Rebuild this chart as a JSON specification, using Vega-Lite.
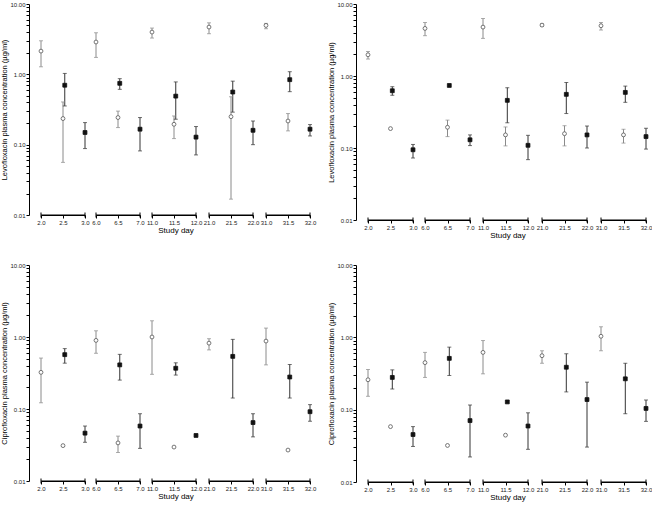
{
  "$schema": "https://vega.github.io/schema/vega-lite/v6.json",
  "padding": {"left": 0, "top": 1, "right": 0, "bottom": 0},
  "background": "white",
  "config": {
    "font": "Liberation Sans",
    "view": {"stroke": null},
    "axis": {"labelFont": "Liberation Sans", "titleFont": "Liberation Sans", "labelFontSize": 6, "titleFontSize": 7.5, "titleFontWeight": "normal", "domainColor": "#000", "tickColor": "#000", "labelColor": "#222", "titleColor": "#000", "grid": false},
    "header": {"labels": false, "titleFont": "Liberation Sans", "titleFontSize": 8, "titleFontWeight": "normal", "titleColor": "#000", "titleOrient": "bottom", "titlePadding": -8}
  },
  "datasets": {
    "d": [
      {"p":1,"g":1,"d":2.0,"t":"open","v":2.14,"lo":1.28,"hi":3.0},
      {"p":1,"g":1,"d":2.54,"t":"filled","v":0.70,"lo":0.355,"hi":1.03},
      {"p":1,"g":1,"d":2.5,"t":"open","v":0.235,"lo":0.056,"hi":0.405},
      {"p":1,"g":1,"d":3.0,"t":"filled","v":0.149,"lo":0.088,"hi":0.206},
      {"p":1,"g":2,"d":6.0,"t":"open","v":2.88,"lo":1.74,"hi":3.9},
      {"p":1,"g":2,"d":6.54,"t":"filled","v":0.745,"lo":0.612,"hi":0.868},
      {"p":1,"g":2,"d":6.5,"t":"open","v":0.243,"lo":0.175,"hi":0.30},
      {"p":1,"g":2,"d":7.0,"t":"filled","v":0.166,"lo":0.0815,"hi":0.243},
      {"p":1,"g":3,"d":11.0,"t":"open","v":3.99,"lo":3.28,"hi":4.55},
      {"p":1,"g":3,"d":11.54,"t":"filled","v":0.49,"lo":0.23,"hi":0.78},
      {"p":1,"g":3,"d":11.5,"t":"open","v":0.195,"lo":0.122,"hi":0.256},
      {"p":1,"g":3,"d":12.0,"t":"filled","v":0.128,"lo":0.0715,"hi":0.181},
      {"p":1,"g":4,"d":21.0,"t":"open","v":4.7,"lo":3.78,"hi":5.4},
      {"p":1,"g":4,"d":21.54,"t":"filled","v":0.56,"lo":0.29,"hi":0.80},
      {"p":1,"g":4,"d":21.5,"t":"open","v":0.25,"lo":0.0168,"hi":0.48},
      {"p":1,"g":4,"d":22.0,"t":"filled","v":0.16,"lo":0.1,"hi":0.217},
      {"p":1,"g":5,"d":31.0,"t":"open","v":4.96,"lo":4.45,"hi":5.3},
      {"p":1,"g":5,"d":31.54,"t":"filled","v":0.84,"lo":0.567,"hi":1.09},
      {"p":1,"g":5,"d":31.5,"t":"open","v":0.217,"lo":0.157,"hi":0.277},
      {"p":1,"g":5,"d":32.0,"t":"filled","v":0.166,"lo":0.133,"hi":0.193},

      {"p":2,"g":1,"d":2.0,"t":"open","v":1.97,"lo":1.72,"hi":2.19},
      {"p":2,"g":1,"d":2.54,"t":"filled","v":0.624,"lo":0.54,"hi":0.71},
      {"p":2,"g":1,"d":2.5,"t":"open","v":0.186,"lo":null,"hi":null},
      {"p":2,"g":1,"d":3.0,"t":"filled","v":0.0945,"lo":0.0726,"hi":0.112},
      {"p":2,"g":2,"d":6.0,"t":"open","v":4.58,"lo":3.63,"hi":5.53},
      {"p":2,"g":2,"d":6.54,"t":"filled","v":0.739,"lo":null,"hi":null},
      {"p":2,"g":2,"d":6.5,"t":"open","v":0.194,"lo":0.144,"hi":0.244},
      {"p":2,"g":2,"d":7.0,"t":"filled","v":0.13,"lo":0.108,"hi":0.152},
      {"p":2,"g":3,"d":11.0,"t":"open","v":4.78,"lo":3.33,"hi":6.29},
      {"p":2,"g":3,"d":11.54,"t":"filled","v":0.459,"lo":0.224,"hi":0.687},
      {"p":2,"g":3,"d":11.5,"t":"open","v":0.152,"lo":0.107,"hi":0.196},
      {"p":2,"g":3,"d":12.0,"t":"filled","v":0.109,"lo":0.0689,"hi":0.15},
      {"p":2,"g":4,"d":21.0,"t":"open","v":5.09,"lo":4.9,"hi":5.3},
      {"p":2,"g":4,"d":21.54,"t":"filled","v":0.556,"lo":0.301,"hi":0.813},
      {"p":2,"g":4,"d":21.5,"t":"open","v":0.158,"lo":0.107,"hi":0.204},
      {"p":2,"g":4,"d":22.0,"t":"filled","v":0.152,"lo":0.1,"hi":0.202},
      {"p":2,"g":5,"d":31.0,"t":"open","v":4.99,"lo":4.35,"hi":5.53},
      {"p":2,"g":5,"d":31.54,"t":"filled","v":0.592,"lo":0.431,"hi":0.724},
      {"p":2,"g":5,"d":31.5,"t":"open","v":0.152,"lo":0.117,"hi":0.182},
      {"p":2,"g":5,"d":32.0,"t":"filled","v":0.144,"lo":0.0966,"hi":0.188},

      {"p":3,"g":1,"d":2.0,"t":"open","v":0.323,"lo":0.122,"hi":0.51},
      {"p":3,"g":1,"d":2.54,"t":"filled","v":0.569,"lo":0.433,"hi":0.69},
      {"p":3,"g":1,"d":2.5,"t":"open","v":0.031,"lo":null,"hi":null},
      {"p":3,"g":1,"d":3.0,"t":"filled","v":0.0462,"lo":0.0345,"hi":0.058},
      {"p":3,"g":2,"d":6.0,"t":"open","v":0.897,"lo":0.594,"hi":1.22},
      {"p":3,"g":2,"d":6.54,"t":"filled","v":0.41,"lo":0.252,"hi":0.574},
      {"p":3,"g":2,"d":6.5,"t":"open","v":0.0338,"lo":0.0249,"hi":0.042},
      {"p":3,"g":2,"d":7.0,"t":"filled","v":0.058,"lo":0.0284,"hi":0.086},
      {"p":3,"g":3,"d":11.0,"t":"open","v":1.0,"lo":0.303,"hi":1.68},
      {"p":3,"g":3,"d":11.54,"t":"filled","v":0.368,"lo":0.296,"hi":0.438},
      {"p":3,"g":3,"d":11.5,"t":"open","v":0.0296,"lo":null,"hi":null},
      {"p":3,"g":3,"d":12.0,"t":"filled","v":0.0429,"lo":null,"hi":null},
      {"p":3,"g":4,"d":21.0,"t":"open","v":0.822,"lo":0.662,"hi":0.947},
      {"p":3,"g":4,"d":21.54,"t":"filled","v":0.538,"lo":0.142,"hi":0.927},
      {"p":3,"g":4,"d":22.0,"t":"filled","v":0.0648,"lo":0.041,"hi":0.086},
      {"p":3,"g":5,"d":31.0,"t":"open","v":0.878,"lo":0.41,"hi":1.33},
      {"p":3,"g":5,"d":31.54,"t":"filled","v":0.278,"lo":0.142,"hi":0.415},
      {"p":3,"g":5,"d":31.5,"t":"open","v":0.0269,"lo":null,"hi":null},
      {"p":3,"g":5,"d":32.0,"t":"filled","v":0.0917,"lo":0.0676,"hi":0.115},

      {"p":4,"g":1,"d":2.0,"t":"open","v":0.259,"lo":0.153,"hi":0.359},
      {"p":4,"g":1,"d":2.54,"t":"filled","v":0.279,"lo":0.193,"hi":0.355},
      {"p":4,"g":1,"d":2.5,"t":"open","v":0.0583,"lo":null,"hi":null},
      {"p":4,"g":1,"d":3.0,"t":"filled","v":0.0453,"lo":0.031,"hi":0.0583},
      {"p":4,"g":2,"d":6.0,"t":"open","v":0.447,"lo":0.279,"hi":0.619},
      {"p":4,"g":2,"d":6.54,"t":"filled","v":0.512,"lo":0.297,"hi":0.732},
      {"p":4,"g":2,"d":6.5,"t":"open","v":0.032,"lo":null,"hi":null},
      {"p":4,"g":2,"d":7.0,"t":"filled","v":0.0706,"lo":0.0222,"hi":0.116},
      {"p":4,"g":3,"d":11.0,"t":"open","v":0.619,"lo":0.313,"hi":0.903},
      {"p":4,"g":3,"d":11.54,"t":"filled","v":0.128,"lo":null,"hi":null},
      {"p":4,"g":3,"d":11.5,"t":"open","v":0.0444,"lo":null,"hi":null},
      {"p":4,"g":3,"d":12.0,"t":"filled","v":0.0594,"lo":0.0283,"hi":0.0905},
      {"p":4,"g":4,"d":21.0,"t":"open","v":0.557,"lo":0.438,"hi":0.652},
      {"p":4,"g":4,"d":21.54,"t":"filled","v":0.386,"lo":0.176,"hi":0.593},
      {"p":4,"g":4,"d":22.0,"t":"filled","v":0.138,"lo":0.0304,"hi":0.24},
      {"p":4,"g":5,"d":31.0,"t":"open","v":1.035,"lo":0.652,"hi":1.40},
      {"p":4,"g":5,"d":31.54,"t":"filled","v":0.267,"lo":0.0879,"hi":0.438},
      {"p":4,"g":5,"d":32.0,"t":"filled","v":0.104,"lo":0.0689,"hi":0.136}
    ]
  },
  "spacing": 22,
  "vconcat": [
    {
      "spacing": 11,
      "hconcat": [
        {
          "data": {"name": "d"},
          "transform": [{"filter": "datum.p == 1"}],
          "facet": {"column": {"field": "g", "type": "ordinal", "title": "Study day"}},
          "spacing": {"column": 1},
          "resolve": {"scale": {"x": "independent"}},
          "spec": {
            "width": 44, "height": 211,
            "encoding": {"x": {"field": "d", "type": "quantitative", "scale": {"zero": false, "nice": false, "padding": 0}, "axis": {"tickCount": 2, "format": ".1f", "title": null, "tickSize": 3, "labelPadding": 1, "labelFlush": false, "labelOverlap": false}}},
            "layer": [
              {"mark": {"type": "rule", "strokeWidth": 1, "color": "#000000"}, "encoding": {"x": {"aggregate": "min", "field": "d", "type": "quantitative", "scale": {"zero": false, "nice": false, "padding": 0}, "axis": {"tickCount": 2, "format": ".1f", "title": null, "tickSize": 3, "labelPadding": 1, "labelFlush": false, "labelOverlap": false}}, "x2": {"aggregate": "max", "field": "d"}, "y": {"datum": 0.01, "type": "quantitative", "scale": {"type": "log", "domain": [0.01, 10], "nice": false}, "axis": {"values": [0.01,0.02,0.03,0.04,0.05,0.06,0.07,0.08,0.09,0.1,0.2,0.3,0.4,0.5,0.6,0.7,0.8,0.9,1,2,3,4,5,6,7,8,9,10], "labelExpr": "(datum.value==0.01||datum.value==0.1||datum.value==1||datum.value==10) ? format(datum.value, '.2f') : ''", "tickSize": 3, "offset": 7, "title": "Levofloxacin plasma concentration (µg/ml)", "labelPadding": 1, "titlePadding": 1, "labelOverlap": false, "labelFlush": false}}}},
              {"mark": {"type": "tick", "orient": "vertical", "size": 5, "thickness": 1, "color": "#000000"}, "encoding": {"x": {"aggregate": "min", "field": "d", "type": "quantitative", "scale": {"zero": false, "nice": false, "padding": 0}, "axis": {"tickCount": 2, "format": ".1f", "title": null, "tickSize": 3, "labelPadding": 1, "labelFlush": false, "labelOverlap": false}}, "y": {"datum": 0.01, "type": "quantitative", "scale": {"type": "log", "domain": [0.01, 10], "nice": false}, "axis": {"values": [0.01,0.02,0.03,0.04,0.05,0.06,0.07,0.08,0.09,0.1,0.2,0.3,0.4,0.5,0.6,0.7,0.8,0.9,1,2,3,4,5,6,7,8,9,10], "labelExpr": "(datum.value==0.01||datum.value==0.1||datum.value==1||datum.value==10) ? format(datum.value, '.2f') : ''", "tickSize": 3, "offset": 7, "title": "Levofloxacin plasma concentration (µg/ml)", "labelPadding": 1, "titlePadding": 1, "labelOverlap": false, "labelFlush": false}}}},
              {"mark": {"type": "tick", "orient": "vertical", "size": 5, "thickness": 1, "color": "#000000"}, "encoding": {"x": {"aggregate": "max", "field": "d", "type": "quantitative", "scale": {"zero": false, "nice": false, "padding": 0}, "axis": {"tickCount": 2, "format": ".1f", "title": null, "tickSize": 3, "labelPadding": 1, "labelFlush": false, "labelOverlap": false}}, "y": {"datum": 0.01, "type": "quantitative", "scale": {"type": "log", "domain": [0.01, 10], "nice": false}, "axis": {"values": [0.01,0.02,0.03,0.04,0.05,0.06,0.07,0.08,0.09,0.1,0.2,0.3,0.4,0.5,0.6,0.7,0.8,0.9,1,2,3,4,5,6,7,8,9,10], "labelExpr": "(datum.value==0.01||datum.value==0.1||datum.value==1||datum.value==10) ? format(datum.value, '.2f') : ''", "tickSize": 3, "offset": 7, "title": "Levofloxacin plasma concentration (µg/ml)", "labelPadding": 1, "titlePadding": 1, "labelOverlap": false, "labelFlush": false}}}},
              {"mark": {"type": "rule", "strokeWidth": 1}, "encoding": {"y": {"field": "lo", "type": "quantitative", "scale": {"type": "log", "domain": [0.01, 10], "nice": false}, "axis": {"values": [0.01,0.02,0.03,0.04,0.05,0.06,0.07,0.08,0.09,0.1,0.2,0.3,0.4,0.5,0.6,0.7,0.8,0.9,1,2,3,4,5,6,7,8,9,10], "labelExpr": "(datum.value==0.01||datum.value==0.1||datum.value==1||datum.value==10) ? format(datum.value, '.2f') : ''", "tickSize": 3, "offset": 7, "title": "Levofloxacin plasma concentration (µg/ml)", "labelPadding": 1, "titlePadding": 1, "labelOverlap": false, "labelFlush": false}}, "y2": {"field": "hi"}, "color": {"field": "t", "type": "nominal", "scale": {"domain": ["open", "filled"], "range": ["#8a8a8a", "#333333"]}, "legend": null}}},
              {"mark": {"type": "tick", "orient": "horizontal", "size": 4, "thickness": 1}, "encoding": {"y": {"field": "lo", "type": "quantitative", "scale": {"type": "log", "domain": [0.01, 10], "nice": false}, "axis": {"values": [0.01,0.02,0.03,0.04,0.05,0.06,0.07,0.08,0.09,0.1,0.2,0.3,0.4,0.5,0.6,0.7,0.8,0.9,1,2,3,4,5,6,7,8,9,10], "labelExpr": "(datum.value==0.01||datum.value==0.1||datum.value==1||datum.value==10) ? format(datum.value, '.2f') : ''", "tickSize": 3, "offset": 7, "title": "Levofloxacin plasma concentration (µg/ml)", "labelPadding": 1, "titlePadding": 1, "labelOverlap": false, "labelFlush": false}}, "color": {"field": "t", "type": "nominal", "legend": null}}},
              {"mark": {"type": "tick", "orient": "horizontal", "size": 4, "thickness": 1}, "encoding": {"y": {"field": "hi", "type": "quantitative", "scale": {"type": "log", "domain": [0.01, 10], "nice": false}, "axis": {"values": [0.01,0.02,0.03,0.04,0.05,0.06,0.07,0.08,0.09,0.1,0.2,0.3,0.4,0.5,0.6,0.7,0.8,0.9,1,2,3,4,5,6,7,8,9,10], "labelExpr": "(datum.value==0.01||datum.value==0.1||datum.value==1||datum.value==10) ? format(datum.value, '.2f') : ''", "tickSize": 3, "offset": 7, "title": "Levofloxacin plasma concentration (µg/ml)", "labelPadding": 1, "titlePadding": 1, "labelOverlap": false, "labelFlush": false}}, "color": {"field": "t", "type": "nominal", "legend": null}}},
              {"mark": {"type": "point", "filled": true, "size": 15, "strokeWidth": 0.8, "opacity": 1}, "encoding": {
                "y": {"field": "v", "type": "quantitative", "scale": {"type": "log", "domain": [0.01, 10], "nice": false}, "axis": {"values": [0.01,0.02,0.03,0.04,0.05,0.06,0.07,0.08,0.09,0.1,0.2,0.3,0.4,0.5,0.6,0.7,0.8,0.9,1,2,3,4,5,6,7,8,9,10], "labelExpr": "(datum.value==0.01||datum.value==0.1||datum.value==1||datum.value==10) ? format(datum.value, '.2f') : ''", "tickSize": 3, "offset": 7, "title": "Levofloxacin plasma concentration (µg/ml)", "labelPadding": 1, "titlePadding": 1, "labelOverlap": false, "labelFlush": false}},
                "shape": {"field": "t", "type": "nominal", "scale": {"domain": ["open", "filled"], "range": ["circle", "square"]}, "legend": null},
                "fill": {"field": "t", "type": "nominal", "scale": {"domain": ["open", "filled"], "range": ["#ffffff", "#111111"]}, "legend": null},
                "stroke": {"field": "t", "type": "nominal", "scale": {"domain": ["open", "filled"], "range": ["#555555", "#111111"]}, "legend": null}}}
            ]
          }
        },
        {
          "data": {"name": "d"},
          "transform": [{"filter": "datum.p == 2"}],
          "facet": {"column": {"field": "g", "type": "ordinal", "title": "Study day"}},
          "spacing": {"column": 2},
          "resolve": {"scale": {"x": "independent"}},
          "spec": {
            "width": 45, "height": 216,
            "encoding": {"x": {"field": "d", "type": "quantitative", "scale": {"zero": false, "nice": false, "padding": 0}, "axis": {"tickCount": 2, "format": ".1f", "title": null, "tickSize": 3, "labelPadding": 1, "labelFlush": false, "labelOverlap": false}}},
            "layer": [
              {"mark": {"type": "rule", "strokeWidth": 1, "color": "#000000"}, "encoding": {"x": {"aggregate": "min", "field": "d", "type": "quantitative", "scale": {"zero": false, "nice": false, "padding": 0}, "axis": {"tickCount": 2, "format": ".1f", "title": null, "tickSize": 3, "labelPadding": 1, "labelFlush": false, "labelOverlap": false}}, "x2": {"aggregate": "max", "field": "d"}, "y": {"datum": 0.01, "type": "quantitative", "scale": {"type": "log", "domain": [0.01, 10], "nice": false}, "axis": {"values": [0.01,0.02,0.03,0.04,0.05,0.06,0.07,0.08,0.09,0.1,0.2,0.3,0.4,0.5,0.6,0.7,0.8,0.9,1,2,3,4,5,6,7,8,9,10], "labelExpr": "(datum.value==0.01||datum.value==0.1||datum.value==1||datum.value==10) ? format(datum.value, '.2f') : ''", "tickSize": 3, "offset": 7, "title": "Levofloxacin plasma concentration (µg/ml)", "labelPadding": 1, "titlePadding": 1, "labelOverlap": false, "labelFlush": false}}}},
              {"mark": {"type": "tick", "orient": "vertical", "size": 5, "thickness": 1, "color": "#000000"}, "encoding": {"x": {"aggregate": "min", "field": "d", "type": "quantitative", "scale": {"zero": false, "nice": false, "padding": 0}, "axis": {"tickCount": 2, "format": ".1f", "title": null, "tickSize": 3, "labelPadding": 1, "labelFlush": false, "labelOverlap": false}}, "y": {"datum": 0.01, "type": "quantitative", "scale": {"type": "log", "domain": [0.01, 10], "nice": false}, "axis": {"values": [0.01,0.02,0.03,0.04,0.05,0.06,0.07,0.08,0.09,0.1,0.2,0.3,0.4,0.5,0.6,0.7,0.8,0.9,1,2,3,4,5,6,7,8,9,10], "labelExpr": "(datum.value==0.01||datum.value==0.1||datum.value==1||datum.value==10) ? format(datum.value, '.2f') : ''", "tickSize": 3, "offset": 7, "title": "Levofloxacin plasma concentration (µg/ml)", "labelPadding": 1, "titlePadding": 1, "labelOverlap": false, "labelFlush": false}}}},
              {"mark": {"type": "tick", "orient": "vertical", "size": 5, "thickness": 1, "color": "#000000"}, "encoding": {"x": {"aggregate": "max", "field": "d", "type": "quantitative", "scale": {"zero": false, "nice": false, "padding": 0}, "axis": {"tickCount": 2, "format": ".1f", "title": null, "tickSize": 3, "labelPadding": 1, "labelFlush": false, "labelOverlap": false}}, "y": {"datum": 0.01, "type": "quantitative", "scale": {"type": "log", "domain": [0.01, 10], "nice": false}, "axis": {"values": [0.01,0.02,0.03,0.04,0.05,0.06,0.07,0.08,0.09,0.1,0.2,0.3,0.4,0.5,0.6,0.7,0.8,0.9,1,2,3,4,5,6,7,8,9,10], "labelExpr": "(datum.value==0.01||datum.value==0.1||datum.value==1||datum.value==10) ? format(datum.value, '.2f') : ''", "tickSize": 3, "offset": 7, "title": "Levofloxacin plasma concentration (µg/ml)", "labelPadding": 1, "titlePadding": 1, "labelOverlap": false, "labelFlush": false}}}},
              {"mark": {"type": "rule", "strokeWidth": 1}, "encoding": {"y": {"field": "lo", "type": "quantitative", "scale": {"type": "log", "domain": [0.01, 10], "nice": false}, "axis": {"values": [0.01,0.02,0.03,0.04,0.05,0.06,0.07,0.08,0.09,0.1,0.2,0.3,0.4,0.5,0.6,0.7,0.8,0.9,1,2,3,4,5,6,7,8,9,10], "labelExpr": "(datum.value==0.01||datum.value==0.1||datum.value==1||datum.value==10) ? format(datum.value, '.2f') : ''", "tickSize": 3, "offset": 7, "title": "Levofloxacin plasma concentration (µg/ml)", "labelPadding": 1, "titlePadding": 1, "labelOverlap": false, "labelFlush": false}}, "y2": {"field": "hi"}, "color": {"field": "t", "type": "nominal", "scale": {"domain": ["open", "filled"], "range": ["#8a8a8a", "#333333"]}, "legend": null}}},
              {"mark": {"type": "tick", "orient": "horizontal", "size": 4, "thickness": 1}, "encoding": {"y": {"field": "lo", "type": "quantitative", "scale": {"type": "log", "domain": [0.01, 10], "nice": false}, "axis": {"values": [0.01,0.02,0.03,0.04,0.05,0.06,0.07,0.08,0.09,0.1,0.2,0.3,0.4,0.5,0.6,0.7,0.8,0.9,1,2,3,4,5,6,7,8,9,10], "labelExpr": "(datum.value==0.01||datum.value==0.1||datum.value==1||datum.value==10) ? format(datum.value, '.2f') : ''", "tickSize": 3, "offset": 7, "title": "Levofloxacin plasma concentration (µg/ml)", "labelPadding": 1, "titlePadding": 1, "labelOverlap": false, "labelFlush": false}}, "color": {"field": "t", "type": "nominal", "legend": null}}},
              {"mark": {"type": "tick", "orient": "horizontal", "size": 4, "thickness": 1}, "encoding": {"y": {"field": "hi", "type": "quantitative", "scale": {"type": "log", "domain": [0.01, 10], "nice": false}, "axis": {"values": [0.01,0.02,0.03,0.04,0.05,0.06,0.07,0.08,0.09,0.1,0.2,0.3,0.4,0.5,0.6,0.7,0.8,0.9,1,2,3,4,5,6,7,8,9,10], "labelExpr": "(datum.value==0.01||datum.value==0.1||datum.value==1||datum.value==10) ? format(datum.value, '.2f') : ''", "tickSize": 3, "offset": 7, "title": "Levofloxacin plasma concentration (µg/ml)", "labelPadding": 1, "titlePadding": 1, "labelOverlap": false, "labelFlush": false}}, "color": {"field": "t", "type": "nominal", "legend": null}}},
              {"mark": {"type": "point", "filled": true, "size": 15, "strokeWidth": 0.8, "opacity": 1}, "encoding": {
                "y": {"field": "v", "type": "quantitative", "scale": {"type": "log", "domain": [0.01, 10], "nice": false}, "axis": {"values": [0.01,0.02,0.03,0.04,0.05,0.06,0.07,0.08,0.09,0.1,0.2,0.3,0.4,0.5,0.6,0.7,0.8,0.9,1,2,3,4,5,6,7,8,9,10], "labelExpr": "(datum.value==0.01||datum.value==0.1||datum.value==1||datum.value==10) ? format(datum.value, '.2f') : ''", "tickSize": 3, "offset": 7, "title": "Levofloxacin plasma concentration (µg/ml)", "labelPadding": 1, "titlePadding": 1, "labelOverlap": false, "labelFlush": false}},
                "shape": {"field": "t", "type": "nominal", "scale": {"domain": ["open", "filled"], "range": ["circle", "square"]}, "legend": null},
                "fill": {"field": "t", "type": "nominal", "scale": {"domain": ["open", "filled"], "range": ["#ffffff", "#111111"]}, "legend": null},
                "stroke": {"field": "t", "type": "nominal", "scale": {"domain": ["open", "filled"], "range": ["#555555", "#111111"]}, "legend": null}}}
            ]
          }
        }
      ]
    },
    {
      "spacing": 11,
      "hconcat": [
        {
          "data": {"name": "d"},
          "transform": [{"filter": "datum.p == 3"}],
          "facet": {"column": {"field": "g", "type": "ordinal", "title": "Study day"}},
          "spacing": {"column": 1},
          "resolve": {"scale": {"x": "independent"}},
          "spec": {
            "width": 44, "height": 216,
            "encoding": {"x": {"field": "d", "type": "quantitative", "scale": {"zero": false, "nice": false, "padding": 0}, "axis": {"tickCount": 2, "format": ".1f", "title": null, "tickSize": 3, "labelPadding": 1, "labelFlush": false, "labelOverlap": false}}},
            "layer": [
              {"mark": {"type": "rule", "strokeWidth": 1, "color": "#000000"}, "encoding": {"x": {"aggregate": "min", "field": "d", "type": "quantitative", "scale": {"zero": false, "nice": false, "padding": 0}, "axis": {"tickCount": 2, "format": ".1f", "title": null, "tickSize": 3, "labelPadding": 1, "labelFlush": false, "labelOverlap": false}}, "x2": {"aggregate": "max", "field": "d"}, "y": {"datum": 0.01, "type": "quantitative", "scale": {"type": "log", "domain": [0.01, 10], "nice": false}, "axis": {"values": [0.01,0.02,0.03,0.04,0.05,0.06,0.07,0.08,0.09,0.1,0.2,0.3,0.4,0.5,0.6,0.7,0.8,0.9,1,2,3,4,5,6,7,8,9,10], "labelExpr": "(datum.value==0.01||datum.value==0.1||datum.value==1||datum.value==10) ? format(datum.value, '.2f') : ''", "tickSize": 3, "offset": 7, "title": "Ciprofloxacin plasma concentration (µg/ml)", "labelPadding": 1, "titlePadding": 1, "labelOverlap": false, "labelFlush": false}}}},
              {"mark": {"type": "tick", "orient": "vertical", "size": 5, "thickness": 1, "color": "#000000"}, "encoding": {"x": {"aggregate": "min", "field": "d", "type": "quantitative", "scale": {"zero": false, "nice": false, "padding": 0}, "axis": {"tickCount": 2, "format": ".1f", "title": null, "tickSize": 3, "labelPadding": 1, "labelFlush": false, "labelOverlap": false}}, "y": {"datum": 0.01, "type": "quantitative", "scale": {"type": "log", "domain": [0.01, 10], "nice": false}, "axis": {"values": [0.01,0.02,0.03,0.04,0.05,0.06,0.07,0.08,0.09,0.1,0.2,0.3,0.4,0.5,0.6,0.7,0.8,0.9,1,2,3,4,5,6,7,8,9,10], "labelExpr": "(datum.value==0.01||datum.value==0.1||datum.value==1||datum.value==10) ? format(datum.value, '.2f') : ''", "tickSize": 3, "offset": 7, "title": "Ciprofloxacin plasma concentration (µg/ml)", "labelPadding": 1, "titlePadding": 1, "labelOverlap": false, "labelFlush": false}}}},
              {"mark": {"type": "tick", "orient": "vertical", "size": 5, "thickness": 1, "color": "#000000"}, "encoding": {"x": {"aggregate": "max", "field": "d", "type": "quantitative", "scale": {"zero": false, "nice": false, "padding": 0}, "axis": {"tickCount": 2, "format": ".1f", "title": null, "tickSize": 3, "labelPadding": 1, "labelFlush": false, "labelOverlap": false}}, "y": {"datum": 0.01, "type": "quantitative", "scale": {"type": "log", "domain": [0.01, 10], "nice": false}, "axis": {"values": [0.01,0.02,0.03,0.04,0.05,0.06,0.07,0.08,0.09,0.1,0.2,0.3,0.4,0.5,0.6,0.7,0.8,0.9,1,2,3,4,5,6,7,8,9,10], "labelExpr": "(datum.value==0.01||datum.value==0.1||datum.value==1||datum.value==10) ? format(datum.value, '.2f') : ''", "tickSize": 3, "offset": 7, "title": "Ciprofloxacin plasma concentration (µg/ml)", "labelPadding": 1, "titlePadding": 1, "labelOverlap": false, "labelFlush": false}}}},
              {"mark": {"type": "rule", "strokeWidth": 1}, "encoding": {"y": {"field": "lo", "type": "quantitative", "scale": {"type": "log", "domain": [0.01, 10], "nice": false}, "axis": {"values": [0.01,0.02,0.03,0.04,0.05,0.06,0.07,0.08,0.09,0.1,0.2,0.3,0.4,0.5,0.6,0.7,0.8,0.9,1,2,3,4,5,6,7,8,9,10], "labelExpr": "(datum.value==0.01||datum.value==0.1||datum.value==1||datum.value==10) ? format(datum.value, '.2f') : ''", "tickSize": 3, "offset": 7, "title": "Ciprofloxacin plasma concentration (µg/ml)", "labelPadding": 1, "titlePadding": 1, "labelOverlap": false, "labelFlush": false}}, "y2": {"field": "hi"}, "color": {"field": "t", "type": "nominal", "scale": {"domain": ["open", "filled"], "range": ["#8a8a8a", "#333333"]}, "legend": null}}},
              {"mark": {"type": "tick", "orient": "horizontal", "size": 4, "thickness": 1}, "encoding": {"y": {"field": "lo", "type": "quantitative", "scale": {"type": "log", "domain": [0.01, 10], "nice": false}, "axis": {"values": [0.01,0.02,0.03,0.04,0.05,0.06,0.07,0.08,0.09,0.1,0.2,0.3,0.4,0.5,0.6,0.7,0.8,0.9,1,2,3,4,5,6,7,8,9,10], "labelExpr": "(datum.value==0.01||datum.value==0.1||datum.value==1||datum.value==10) ? format(datum.value, '.2f') : ''", "tickSize": 3, "offset": 7, "title": "Ciprofloxacin plasma concentration (µg/ml)", "labelPadding": 1, "titlePadding": 1, "labelOverlap": false, "labelFlush": false}}, "color": {"field": "t", "type": "nominal", "legend": null}}},
              {"mark": {"type": "tick", "orient": "horizontal", "size": 4, "thickness": 1}, "encoding": {"y": {"field": "hi", "type": "quantitative", "scale": {"type": "log", "domain": [0.01, 10], "nice": false}, "axis": {"values": [0.01,0.02,0.03,0.04,0.05,0.06,0.07,0.08,0.09,0.1,0.2,0.3,0.4,0.5,0.6,0.7,0.8,0.9,1,2,3,4,5,6,7,8,9,10], "labelExpr": "(datum.value==0.01||datum.value==0.1||datum.value==1||datum.value==10) ? format(datum.value, '.2f') : ''", "tickSize": 3, "offset": 7, "title": "Ciprofloxacin plasma concentration (µg/ml)", "labelPadding": 1, "titlePadding": 1, "labelOverlap": false, "labelFlush": false}}, "color": {"field": "t", "type": "nominal", "legend": null}}},
              {"mark": {"type": "point", "filled": true, "size": 15, "strokeWidth": 0.8, "opacity": 1}, "encoding": {
                "y": {"field": "v", "type": "quantitative", "scale": {"type": "log", "domain": [0.01, 10], "nice": false}, "axis": {"values": [0.01,0.02,0.03,0.04,0.05,0.06,0.07,0.08,0.09,0.1,0.2,0.3,0.4,0.5,0.6,0.7,0.8,0.9,1,2,3,4,5,6,7,8,9,10], "labelExpr": "(datum.value==0.01||datum.value==0.1||datum.value==1||datum.value==10) ? format(datum.value, '.2f') : ''", "tickSize": 3, "offset": 7, "title": "Ciprofloxacin plasma concentration (µg/ml)", "labelPadding": 1, "titlePadding": 1, "labelOverlap": false, "labelFlush": false}},
                "shape": {"field": "t", "type": "nominal", "scale": {"domain": ["open", "filled"], "range": ["circle", "square"]}, "legend": null},
                "fill": {"field": "t", "type": "nominal", "scale": {"domain": ["open", "filled"], "range": ["#ffffff", "#111111"]}, "legend": null},
                "stroke": {"field": "t", "type": "nominal", "scale": {"domain": ["open", "filled"], "range": ["#555555", "#111111"]}, "legend": null}}}
            ]
          }
        },
        {
          "data": {"name": "d"},
          "transform": [{"filter": "datum.p == 4"}],
          "facet": {"column": {"field": "g", "type": "ordinal", "title": "Study day"}},
          "spacing": {"column": 2},
          "resolve": {"scale": {"x": "independent"}},
          "spec": {
            "width": 45, "height": 217,
            "encoding": {"x": {"field": "d", "type": "quantitative", "scale": {"zero": false, "nice": false, "padding": 0}, "axis": {"tickCount": 2, "format": ".1f", "title": null, "tickSize": 3, "labelPadding": 1, "labelFlush": false, "labelOverlap": false}}},
            "layer": [
              {"mark": {"type": "rule", "strokeWidth": 1, "color": "#000000"}, "encoding": {"x": {"aggregate": "min", "field": "d", "type": "quantitative", "scale": {"zero": false, "nice": false, "padding": 0}, "axis": {"tickCount": 2, "format": ".1f", "title": null, "tickSize": 3, "labelPadding": 1, "labelFlush": false, "labelOverlap": false}}, "x2": {"aggregate": "max", "field": "d"}, "y": {"datum": 0.01, "type": "quantitative", "scale": {"type": "log", "domain": [0.01, 10], "nice": false}, "axis": {"values": [0.01,0.02,0.03,0.04,0.05,0.06,0.07,0.08,0.09,0.1,0.2,0.3,0.4,0.5,0.6,0.7,0.8,0.9,1,2,3,4,5,6,7,8,9,10], "labelExpr": "(datum.value==0.01||datum.value==0.1||datum.value==1||datum.value==10) ? format(datum.value, '.2f') : ''", "tickSize": 3, "offset": 7, "title": "Ciprofloxacin plasma concentration (µg/ml)", "labelPadding": 1, "titlePadding": 1, "labelOverlap": false, "labelFlush": false}}}},
              {"mark": {"type": "tick", "orient": "vertical", "size": 5, "thickness": 1, "color": "#000000"}, "encoding": {"x": {"aggregate": "min", "field": "d", "type": "quantitative", "scale": {"zero": false, "nice": false, "padding": 0}, "axis": {"tickCount": 2, "format": ".1f", "title": null, "tickSize": 3, "labelPadding": 1, "labelFlush": false, "labelOverlap": false}}, "y": {"datum": 0.01, "type": "quantitative", "scale": {"type": "log", "domain": [0.01, 10], "nice": false}, "axis": {"values": [0.01,0.02,0.03,0.04,0.05,0.06,0.07,0.08,0.09,0.1,0.2,0.3,0.4,0.5,0.6,0.7,0.8,0.9,1,2,3,4,5,6,7,8,9,10], "labelExpr": "(datum.value==0.01||datum.value==0.1||datum.value==1||datum.value==10) ? format(datum.value, '.2f') : ''", "tickSize": 3, "offset": 7, "title": "Ciprofloxacin plasma concentration (µg/ml)", "labelPadding": 1, "titlePadding": 1, "labelOverlap": false, "labelFlush": false}}}},
              {"mark": {"type": "tick", "orient": "vertical", "size": 5, "thickness": 1, "color": "#000000"}, "encoding": {"x": {"aggregate": "max", "field": "d", "type": "quantitative", "scale": {"zero": false, "nice": false, "padding": 0}, "axis": {"tickCount": 2, "format": ".1f", "title": null, "tickSize": 3, "labelPadding": 1, "labelFlush": false, "labelOverlap": false}}, "y": {"datum": 0.01, "type": "quantitative", "scale": {"type": "log", "domain": [0.01, 10], "nice": false}, "axis": {"values": [0.01,0.02,0.03,0.04,0.05,0.06,0.07,0.08,0.09,0.1,0.2,0.3,0.4,0.5,0.6,0.7,0.8,0.9,1,2,3,4,5,6,7,8,9,10], "labelExpr": "(datum.value==0.01||datum.value==0.1||datum.value==1||datum.value==10) ? format(datum.value, '.2f') : ''", "tickSize": 3, "offset": 7, "title": "Ciprofloxacin plasma concentration (µg/ml)", "labelPadding": 1, "titlePadding": 1, "labelOverlap": false, "labelFlush": false}}}},
              {"mark": {"type": "rule", "strokeWidth": 1}, "encoding": {"y": {"field": "lo", "type": "quantitative", "scale": {"type": "log", "domain": [0.01, 10], "nice": false}, "axis": {"values": [0.01,0.02,0.03,0.04,0.05,0.06,0.07,0.08,0.09,0.1,0.2,0.3,0.4,0.5,0.6,0.7,0.8,0.9,1,2,3,4,5,6,7,8,9,10], "labelExpr": "(datum.value==0.01||datum.value==0.1||datum.value==1||datum.value==10) ? format(datum.value, '.2f') : ''", "tickSize": 3, "offset": 7, "title": "Ciprofloxacin plasma concentration (µg/ml)", "labelPadding": 1, "titlePadding": 1, "labelOverlap": false, "labelFlush": false}}, "y2": {"field": "hi"}, "color": {"field": "t", "type": "nominal", "scale": {"domain": ["open", "filled"], "range": ["#8a8a8a", "#333333"]}, "legend": null}}},
              {"mark": {"type": "tick", "orient": "horizontal", "size": 4, "thickness": 1}, "encoding": {"y": {"field": "lo", "type": "quantitative", "scale": {"type": "log", "domain": [0.01, 10], "nice": false}, "axis": {"values": [0.01,0.02,0.03,0.04,0.05,0.06,0.07,0.08,0.09,0.1,0.2,0.3,0.4,0.5,0.6,0.7,0.8,0.9,1,2,3,4,5,6,7,8,9,10], "labelExpr": "(datum.value==0.01||datum.value==0.1||datum.value==1||datum.value==10) ? format(datum.value, '.2f') : ''", "tickSize": 3, "offset": 7, "title": "Ciprofloxacin plasma concentration (µg/ml)", "labelPadding": 1, "titlePadding": 1, "labelOverlap": false, "labelFlush": false}}, "color": {"field": "t", "type": "nominal", "legend": null}}},
              {"mark": {"type": "tick", "orient": "horizontal", "size": 4, "thickness": 1}, "encoding": {"y": {"field": "hi", "type": "quantitative", "scale": {"type": "log", "domain": [0.01, 10], "nice": false}, "axis": {"values": [0.01,0.02,0.03,0.04,0.05,0.06,0.07,0.08,0.09,0.1,0.2,0.3,0.4,0.5,0.6,0.7,0.8,0.9,1,2,3,4,5,6,7,8,9,10], "labelExpr": "(datum.value==0.01||datum.value==0.1||datum.value==1||datum.value==10) ? format(datum.value, '.2f') : ''", "tickSize": 3, "offset": 7, "title": "Ciprofloxacin plasma concentration (µg/ml)", "labelPadding": 1, "titlePadding": 1, "labelOverlap": false, "labelFlush": false}}, "color": {"field": "t", "type": "nominal", "legend": null}}},
              {"mark": {"type": "point", "filled": true, "size": 15, "strokeWidth": 0.8, "opacity": 1}, "encoding": {
                "y": {"field": "v", "type": "quantitative", "scale": {"type": "log", "domain": [0.01, 10], "nice": false}, "axis": {"values": [0.01,0.02,0.03,0.04,0.05,0.06,0.07,0.08,0.09,0.1,0.2,0.3,0.4,0.5,0.6,0.7,0.8,0.9,1,2,3,4,5,6,7,8,9,10], "labelExpr": "(datum.value==0.01||datum.value==0.1||datum.value==1||datum.value==10) ? format(datum.value, '.2f') : ''", "tickSize": 3, "offset": 7, "title": "Ciprofloxacin plasma concentration (µg/ml)", "labelPadding": 1, "titlePadding": 1, "labelOverlap": false, "labelFlush": false}},
                "shape": {"field": "t", "type": "nominal", "scale": {"domain": ["open", "filled"], "range": ["circle", "square"]}, "legend": null},
                "fill": {"field": "t", "type": "nominal", "scale": {"domain": ["open", "filled"], "range": ["#ffffff", "#111111"]}, "legend": null},
                "stroke": {"field": "t", "type": "nominal", "scale": {"domain": ["open", "filled"], "range": ["#555555", "#111111"]}, "legend": null}}}
            ]
          }
        }
      ]
    }
  ]
}
